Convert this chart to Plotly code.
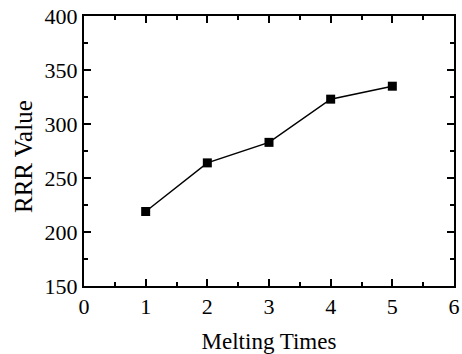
import plotly.graph_objects as go

melting_times = [1, 2, 3, 4, 5]
rrr_values = [219, 264, 283, 323, 335]

font_family = "Liberation Serif, Times New Roman, serif"

fig = go.Figure()
fig.add_trace(go.Scatter(
    x=melting_times, y=rrr_values, mode="lines+markers",
    line=dict(color="black", width=1.5),
    marker=dict(symbol="square", size=9, color="black"),
    showlegend=False,
))

axis_common = dict(
    showline=True, linecolor="black", linewidth=2, mirror="ticks",
    ticks="inside", ticklen=7, tickwidth=1.5, tickcolor="black",
    showgrid=False, zeroline=False,
    tickfont=dict(family=font_family, size=22, color="black"),
    automargin=False,
)

fig.update_xaxes(
    range=[0, 6], dtick=1, tick0=0,
    minor=dict(ticks="inside", ticklen=4, tickwidth=1.5, tickcolor="black", dtick=0.5, tick0=0),
    title=dict(text="Melting Times", font=dict(family=font_family, size=23, color="black"), standoff=16),
    **axis_common,
)
fig.update_yaxes(
    range=[150, 400], dtick=50, tick0=150,
    minor=dict(ticks="inside", ticklen=4, tickwidth=1.5, tickcolor="black", dtick=25, tick0=150),
    **axis_common,
)

fig.add_annotation(
    text="RRR Value", textangle=-90, showarrow=False,
    xref="paper", yref="paper", x=-0.162, y=0.478,
    xanchor="center", yanchor="middle",
    font=dict(family=font_family, size=25, color="black"),
)

fig.update_layout(
    width=462, height=354,
    margin=dict(l=84, r=8, t=16, b=68),
    paper_bgcolor="white", plot_bgcolor="white",
)

fig.write_html("out.html")
